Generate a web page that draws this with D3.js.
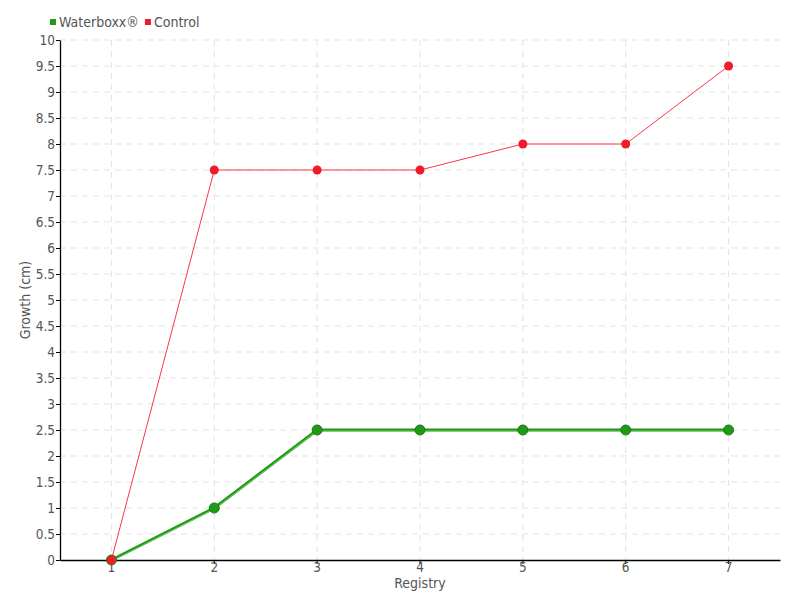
<!DOCTYPE html>
<html>
<head>
<meta charset="utf-8">
<script src="https://cdn.jsdelivr.net/npm/d3@7"></script>
<style>
  body { margin: 0; background: #fff; }
  svg text { font-family: "DejaVu Sans Condensed", sans-serif; fill: #555; }
</style>
</head>
<body>
<svg id="chart" width="800" height="600"></svg>
<script>
//------------------------------------------------------------------------------
//Data
//------------------------------------------------------------------------------
var registry = [1, 2, 3, 4, 5, 6, 7];
var waterboxx = [0, 1, 2.5, 2.5, 2.5, 2.5, 2.5];
var control = [0, 7.5, 7.5, 7.5, 8, 8, 9.5];
var yTicks = [0, 0.5, 1, 1.5, 2, 2.5, 3, 3.5, 4, 4.5, 5, 5.5, 6, 6.5, 7, 7.5, 8, 8.5, 9, 9.5, 10];

//------------------------------------------------------------------------------
//Chart
//------------------------------------------------------------------------------
var svg = d3.select("#chart");
var mLeft = 60, mRight = 780, mTop = 40, mBottom = 560;

var x = d3.scaleBand().domain(registry).range([mLeft, mRight]);
var y = d3.scaleLinear().domain([0, 10]).range([mBottom, mTop]);
function cx(d) { return x(d) + x.bandwidth() / 2; }

// grid
var grid = svg.append("g");
grid.selectAll(".hg").data(yTicks.slice(1)).enter().append("line")
  .attr("x1", mLeft).attr("x2", mRight)
  .attr("y1", function (d) { return y(d); }).attr("y2", function (d) { return y(d); })
  .attr("stroke", "#e3e3e3").attr("stroke-dasharray", "6,5");
grid.selectAll(".vg").data(registry).enter().append("line")
  .attr("x1", cx).attr("x2", cx)
  .attr("y1", mTop).attr("y2", mBottom)
  .attr("stroke", "#e3e3e3").attr("stroke-dasharray", "6,5");

// axes
var yAxis = svg.append("g")
  .attr("transform", "translate(" + mLeft + ",0)")
  .call(d3.axisLeft(y).tickValues(yTicks).tickSize(4).tickSizeOuter(0).tickFormat(d3.format("")));
var xAxis = svg.append("g")
  .attr("transform", "translate(0," + mBottom + ")")
  .call(d3.axisBottom(x).tickSize(4).tickSizeOuter(0));
[yAxis, xAxis].forEach(function (a) {
  a.select(".domain").attr("stroke", "#000").attr("stroke-width", 1.3);
  a.selectAll(".tick line").attr("stroke", "#000");
  a.selectAll(".tick text").attr("font-size", 13.5).attr("fill", "#555");
});
xAxis.selectAll(".tick text").attr("y", 2).attr("dy", "0.71em");
yAxis.selectAll(".tick text").attr("x", -5);

// axis titles
svg.append("text").attr("x", (mLeft + mRight) / 2).attr("y", 588)
  .attr("text-anchor", "middle").attr("font-size", 14).text("Registry");
svg.append("text").attr("transform", "translate(30," + (mTop + mBottom) / 2 + ") rotate(-90)")
  .attr("text-anchor", "middle").attr("font-size", 14).text("Growth (cm)");

// lines
var line = d3.line().x(function (d, i) { return cx(registry[i]); }).y(function (d) { return y(d); });

svg.append("path").datum(control).attr("d", line)
  .attr("fill", "none").attr("stroke", "#ff3347").attr("stroke-width", 1);
svg.append("path").datum(waterboxx).attr("d", line)
  .attr("fill", "none").attr("stroke", "#1e9a14").attr("stroke-width", 3);
svg.append("path").datum(waterboxx).attr("d", line)
  .attr("fill", "none").attr("stroke", "#7fd276").attr("stroke-width", 0.8)
  .attr("transform", "translate(0,1)");

// markers
svg.selectAll(".gp").data(waterboxx).enter().append("circle")
  .attr("cx", function (d, i) { return cx(registry[i]); })
  .attr("cy", function (d) { return y(d); })
  .attr("r", 5).attr("fill", "#1e9a14").attr("stroke", "#207520").attr("stroke-width", 1);
svg.selectAll(".rp").data(control).enter().append("circle")
  .attr("cx", function (d, i) { return cx(registry[i]); })
  .attr("cy", function (d) { return y(d); })
  .attr("r", 4.5).attr("fill", "#ee1c2a");

// legend
var legend = [{ name: "Waterboxx®", color: "#1e9a14" }, { name: "Control", color: "#ee1c2a" }];
var lx = 50;
legend.forEach(function (l) {
  svg.append("rect").attr("x", lx).attr("y", 19).attr("width", 6).attr("height", 6).attr("fill", l.color);
  var t = svg.append("text").attr("x", lx + 9).attr("y", 27).attr("font-size", 14).text(l.name);
  lx += 9 + t.node().getComputedTextLength() + 6;
});
</script>
</body>
</html>
